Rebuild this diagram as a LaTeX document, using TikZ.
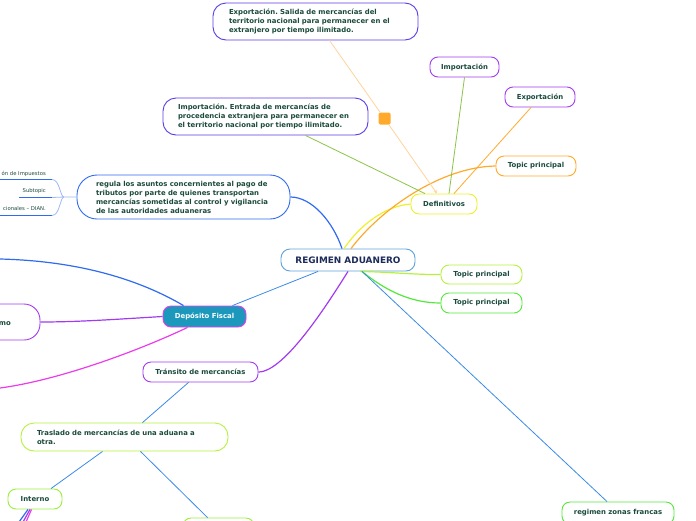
\documentclass[tikz,border=0pt]{standalone}
\usepackage{fontspec}
\setmainfont{DejaVu Sans}
\usepackage{xcolor}
\usepackage{tikz}
\usetikzlibrary{arrows.meta}
\frenchspacing
\definecolor{Ink}{HTML}{1B4A3C}
\definecolor{Navy}{HTML}{1C2B5A}
\definecolor{Violet}{HTML}{5B3BE8}
\definecolor{Purple}{HTML}{A23BF0}
\definecolor{Orange}{HTML}{FFAA2B}
\definecolor{OrangeSoft}{HTML}{FFD39A}
\definecolor{Yellow}{HTML}{EEF02A}
\definecolor{Lime}{HTML}{B5F23C}
\definecolor{Green}{HTML}{55E83C}
\definecolor{Olive}{HTML}{8CC34A}
\definecolor{Blue}{HTML}{2F6BEF}
\definecolor{SkyBlue}{HTML}{3A8AE8}
\definecolor{Sky}{HTML}{5EA3DB}
\definecolor{PaleBlue}{HTML}{9DB8F5}
\definecolor{Teal}{HTML}{1B98BB}
\definecolor{Magenta}{HTML}{EA3CEA}
\tikzset{
  topic/.style={rounded corners=8pt,draw,line width=0.9pt,fill=white,minimum height=20pt,inner sep=0pt,font=\fontsize{6.9}{9}\selectfont\bfseries,text=Ink},
  longtopic/.style={topic,rounded corners=13pt,align=left},
  central/.style={topic,draw=Sky,fill=white,rounded corners=9pt,minimum width=134pt,minimum height=22pt,font=\fontsize{8.9}{10}\selectfont\bfseries,text=Navy},
  subtopic/.style={font=\fontsize{5.3}{6}\selectfont,text=Ink,anchor=base east,inner sep=0pt},
  link/.style={line width=0.8pt},
  branch/.style={line width=1.2pt},
  relmark/.style={rounded corners=1.5pt,fill=Orange,minimum size=12pt,inner sep=0pt}
}
\begin{document}
\begin{tikzpicture}[x=1pt,y=-1pt]
  \useasboundingbox (0,0) rectangle (696,520);
  % main topic
  \node[central] (main) at (348,260) {REGIMEN ADUANERO};
  % definitivos branch
  \node[topic,draw=Yellow,minimum width=66pt] (defin) at (444,204) {Definitivos};
  \node[topic,draw=Purple,minimum width=69pt] (impshort) at (464.5,67) {Importación};
  \node[topic,draw=Purple,minimum width=70pt] (expshort) at (540,97) {Exportación};
  \node[topic,draw=Orange,minimum width=80pt] (toporange) at (536,166) {Topic principal};
  \node[longtopic,draw=Violet,minimum width=205pt,minimum height=37pt,text width=173pt] (explong) at (315.5,21.5)
    {Exportación. Salida de mercancías del\\territorio nacional para permanecer en el\\extranjero por tiempo ilimitado.};
  \node[longtopic,draw=Violet,minimum width=205pt,minimum height=37pt,text width=175pt] (implong) at (265.5,116.5)
    {Importación. Entrada de mercancías de\\procedencia extranjera para permanecer en\\el territorio nacional por tiempo ilimitado.};
  \node[relmark] (rel) at (384.5,118.5) {};
  % right topics
  \node[topic,draw=Lime,minimum width=81pt,minimum height=19pt] (toplime) at (481.5,274.5) {Topic principal};
  \node[topic,draw=Green,minimum width=81pt] (topgreen) at (481.5,303) {Topic principal};
  \node[topic,draw=Green,minimum width=112pt,minimum height=22pt] (zonas) at (618,513) {regimen zonas francas};
  % left topics
  \node[longtopic,draw=Blue,rounded corners=20pt,minimum width=213pt,minimum height=44pt,text width=175pt] (regula) at (183.5,197)
    {regula los asuntos concernientes al pago de\\tributos por parte de quienes transportan\\mercancías sometidas al control y vigilancia\\de las autoridades aduaneras};
  \node[topic,draw=Magenta,fill=Teal,text=white,minimum width=83pt,minimum height=21pt] (deposito) at (204.5,316.5) {Depósito Fiscal};
  \node[topic,draw=Purple,minimum width=115pt] (transito) at (200.5,372) {Tránsito de mercancías};
  \node[longtopic,draw=Lime,minimum width=207pt,minimum height=28pt,text width=175pt] (traslado) at (124.5,437)
    {Traslado de mercancías de una aduana a\\otra.};
  \node[topic,draw=Lime!70!Green,minimum width=54pt] (interno) at (35,499) {Interno};
  \node[topic,draw=Lime!70!Green,minimum width=71pt,minimum height=22pt] (externo) at (218.5,529) {};
  \node[topic,draw=Purple,rounded corners=16pt,minimum width=110pt,minimum height=36pt] (almac) at (-15,322) {};
  \node[font=\fontsize{6.9}{9}\selectfont\bfseries,text=Ink,anchor=base east,inner sep=0pt] (almactext) at (11,325) {mo};
  % subtopics of regula
  \coordinate (sub1) at (52,179.5);
  \coordinate (sub2) at (52,197.5);
  \coordinate (sub3) at (52,215.5);
  \coordinate (fork) at (64,197);
  \draw[Blue,branch] (0,179.5) -- (sub1);
  \draw[Blue,branch] (19,197.5) -- (sub2);
  \draw[Blue,branch] (0,215.5) -- (sub3);
  \node[subtopic] (s1) at (46,175) {ón de Impuestos};
  \node[subtopic] (s2) at (46,192.5) {Subtopic};
  \node[subtopic] (s3) at (46,210.5) {cionales – DIAN.};
  \draw[PaleBlue,link] (sub1) .. controls (60,179.5) and (60,197) .. (fork) -- (regula.west);
  \draw[PaleBlue,link] (sub3) .. controls (60,215.5) and (60,197) .. (fork);
  \draw[PaleBlue,link] (sub2) -- (fork);
  % connectors from main
  \draw[Blue,branch] (regula.east) .. controls (312,197) and (333,222) .. ([xshift=-6pt]main.north);
  \draw[Yellow,branch] ([xshift=-4pt]main.north) .. controls (360,225) and (385,206) .. (defin.west);
  \draw[Orange,branch] ([xshift=3pt]main.north) .. controls (380,210) and (440,167) .. (toporange.west);
  \draw[Lime,branch] ([xshift=12pt]main.south) .. controls (390,272) and (420,275) .. (toplime.west);
  \draw[Green,branch] ([xshift=14pt]main.south) .. controls (385,290) and (410,303) .. (topgreen.west);
  \draw[SkyBlue,link] ([xshift=14pt]main.south) -- ([xshift=-11pt]zonas.north);
  \draw[SkyBlue,link] ([xshift=28pt]deposito.north) -- ([xshift=-30pt]main.south);
  \draw[Purple,branch] (transito.east) .. controls (285,372) and (330,300) .. (main.south);
  % definitivos branch
  \draw[Olive,link] (impshort.south) -- ([xshift=5pt]defin.north);
  \draw[Orange,link] ([xshift=-9pt]expshort.south) -- ([xshift=10pt]defin.north);
  \draw[Olive,link] ([xshift=40pt]implong.south) -- ([xshift=-19pt]defin.north);
  \draw[OrangeSoft,link,-{Stealth[length=4pt,width=3.5pt]}] ([xshift=14pt]explong.south) -- (rel) -- ([xshift=-7pt]defin.north);
  % deposito branch
  \coordinate (depout1) at (0,259);
  \coordinate (depout2) at (0,388);
  \draw[Blue,branch] (depout1) .. controls (80,261) and (140,280) .. ([xshift=-21pt]deposito.north);
  \draw[Magenta,branch] ([xshift=-17pt]deposito.south) .. controls (140,350) and (60,380) .. (depout2);
  \draw[Purple,branch] (deposito.west) .. controls (120,319) and (80,322) .. (almac.east);
  % transito branch
  \draw[SkyBlue,link] ([xshift=-12pt]transito.south) -- ([xshift=18pt]traslado.north);
  \draw[SkyBlue,link] ([xshift=-22pt]traslado.south) -- ([xshift=16pt]interno.north);
  \draw[SkyBlue,link] ([xshift=16pt]traslado.south) -- ([xshift=-11pt]externo.north);
  % interno children
  \coordinate (int1) at (19,522);
  \coordinate (int2) at (23,522);
  \coordinate (int3) at (26,522);
  \draw[Blue,branch] ([xshift=-7pt]interno.south) -- (int1);
  \draw[Purple,branch] ([xshift=-5pt]interno.south) -- (int2);
  \draw[Magenta,branch] ([xshift=-3.5pt]interno.south) -- (int3);
\end{tikzpicture}
\end{document}
